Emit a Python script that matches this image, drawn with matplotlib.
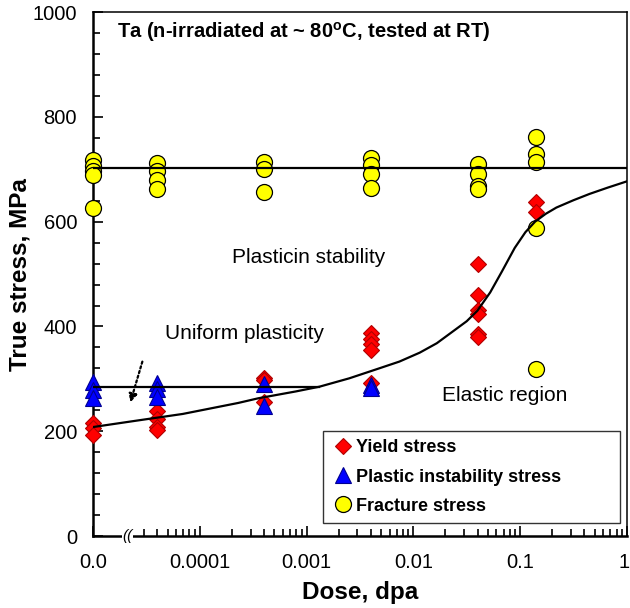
import numpy as np
import matplotlib
matplotlib.use('Agg')
import matplotlib.pyplot as plt
import matplotlib.transforms as mtransforms

plt.rcParams['font.family'] = ['Liberation Sans', 'DejaVu Sans']

# dose columns (0.0 is drawn at 1e-5 on the broken log axis)
yield_dose = [1e-5] * 3 + [4e-5] * 4 + [4e-4] * 3 + [4e-3] * 5 + [0.04] * 6 + [0.14] * 2
yield_stress = [216, 206, 193,
                238, 224, 208, 203,
                302, 297, 255,
                388, 377, 367, 356, 293,
                519, 461, 432, 423, 385, 380,
                637, 618]

inst_dose = [1e-5] * 3 + [4e-5] * 3 + [4e-4] * 2 + [4e-3] * 2
inst_stress = [294, 279, 263,
               293, 280, 266,
               290, 248,
               289, 282]

frac_dose = [1e-5] * 5 + [4e-5] * 4 + [4e-4] * 3 + [4e-3] * 4 + [0.04] * 4 + [0.14] * 5
frac_stress = [717, 706, 697, 690, 627,
               712, 697, 680, 662,
               714, 700, 656,
               721, 708, 691, 665,
               710, 691, 668, 662,
               761, 729, 714, 588, 319]

# yield stress trend curve (log10 dose, MPa)
curve_logd = [-5.0, -4.6, -4.16, -3.64, -3.45, -3.1, -2.88, -2.6, -2.32, -2.13, -1.94,
              -1.78, -1.62, -1.50, -1.40, -1.28, -1.17, -1.05, -0.95, -0.86,
              -0.76, -0.66, -0.50, -0.35, -0.18, 0.0]
curve_stress = [208, 220, 233, 254, 263, 276, 285, 301, 320, 333, 350,
                368, 392, 410, 430, 465, 505, 550, 580, 600,
                615, 627, 641, 653, 665, 677]

fracture_level = 703
instability_level = 285
instability_end = 1.3e-3

xticks = [1e-5, 1e-4, 1e-3, 1e-2, 1e-1, 1]
xticklabels = ['0.0', '0.0001', '0.001', '0.01', '0.1', '1']

fig = plt.figure(figsize=(6.3, 6.08), dpi=100)
ax = fig.add_axes([0.1476, 0.1184, 0.8474, 0.8616])

ax.plot(yield_dose, yield_stress, 'D', ms=8.3, mfc='#ff0000', mec='#b00000', mew=0.8,
        label='Yield stress', clip_on=False, zorder=3)
ax.plot(inst_dose, inst_stress, '^', ms=11, mfc='#0000ff', mec='#000090', mew=0.8,
        label='Plastic instability stress', clip_on=False, zorder=4)
ax.plot(frac_dose, frac_stress, 'o', ms=11.5, mfc='#ffff00', mec='black', mew=0.9,
        label='Fracture stress', clip_on=False, zorder=5)

ax.plot([1e-5, 1], [fracture_level, fracture_level], color='black', lw=1.6, zorder=6)
ax.plot([1e-5, instability_end], [instability_level, instability_level], color='black', lw=1.6, zorder=6)
ax.plot(10 ** np.array(curve_logd), curve_stress, color='black', lw=1.6, zorder=6)

ax.set_xscale('log')
ax.set_xlim(1e-5, 1)
ax.set_ylim(0, 1000)

ax.set_xticks(xticks)
ax.set_xticklabels(xticklabels)
minor = [k * 10.0 ** e for e in range(-5, 0) for k in range(2, 10)]
minor = [m for m in minor if not np.isclose(m, 2e-5)]
ax.set_xticks(minor, minor=True)
ax.set_xticklabels([], minor=True)
ax.set_yticks(np.arange(0, 1001, 200))
ax.set_yticks(np.arange(0, 1001, 40), minor=True)

ax.tick_params(which='both', direction='in', top=False, right=False, labelsize=14.5, width=1.2)
ax.tick_params(which='major', length=7)
ax.tick_params(which='minor', length=5)
ax.tick_params(axis='x', which='major', pad=12.5)
ax.tick_params(axis='y', which='major', pad=11.5)

# keep the "1" label inside the figure
lbl = ax.get_xticklabels()[-1]
lbl.set_transform(lbl.get_transform() +
                  mtransforms.ScaledTranslation(-3 / 100, 0, fig.dpi_scale_trans))

for side in ['left', 'bottom']:
    ax.spines[side].set_linewidth(1.8)
for side in ['top', 'right']:
    ax.spines[side].set_linewidth(1.1)

# axis break marks
ax.text(2.1e-5, 0, '((', fontsize=11, style='italic', ha='center', va='center',
        clip_on=False, zorder=10,
        bbox=dict(facecolor='white', edgecolor='none', pad=0.2))

ax.set_xlabel('Dose, dpa', fontsize=17.5, fontweight='bold', labelpad=6)
ax.set_ylabel('True stress, MPa', fontsize=17.5, fontweight='bold', labelpad=1)

ax.text(1.69e-5, 962, 'Ta (n-irradiated at ~ 80$^\\mathregular{o}$C, tested at RT)',
        fontsize=14.5, fontweight='bold', va='center', ha='left')
ax.text(1.05e-3, 532, 'Plasticin stability', fontsize=15, ha='center', va='center')
ax.text(2.6e-4, 387, 'Uniform plasticity', fontsize=15, ha='center', va='center')
ax.text(0.072, 268, 'Elastic region', fontsize=15, ha='center', va='center')

ax.annotate('', xy=(2.2e-5, 250), xytext=(2.95e-5, 338),
            arrowprops=dict(arrowstyle='-|>', linestyle=(0, (1, 1.2)), lw=1.6,
                            color='black', mutation_scale=12))

leg = ax.legend(loc='lower left', bbox_to_anchor=(0.431, 0.025, 0.556, 0.2), mode='expand',
                prop={'weight': 'bold', 'size': 13}, frameon=True, fancybox=False,
                edgecolor='black', handletextpad=0.1, labelspacing=0.68,
                borderpad=0.45, handlelength=1.3, borderaxespad=0)
leg.get_frame().set_linewidth(1.0)

fig.savefig('out.png', dpi=100)
